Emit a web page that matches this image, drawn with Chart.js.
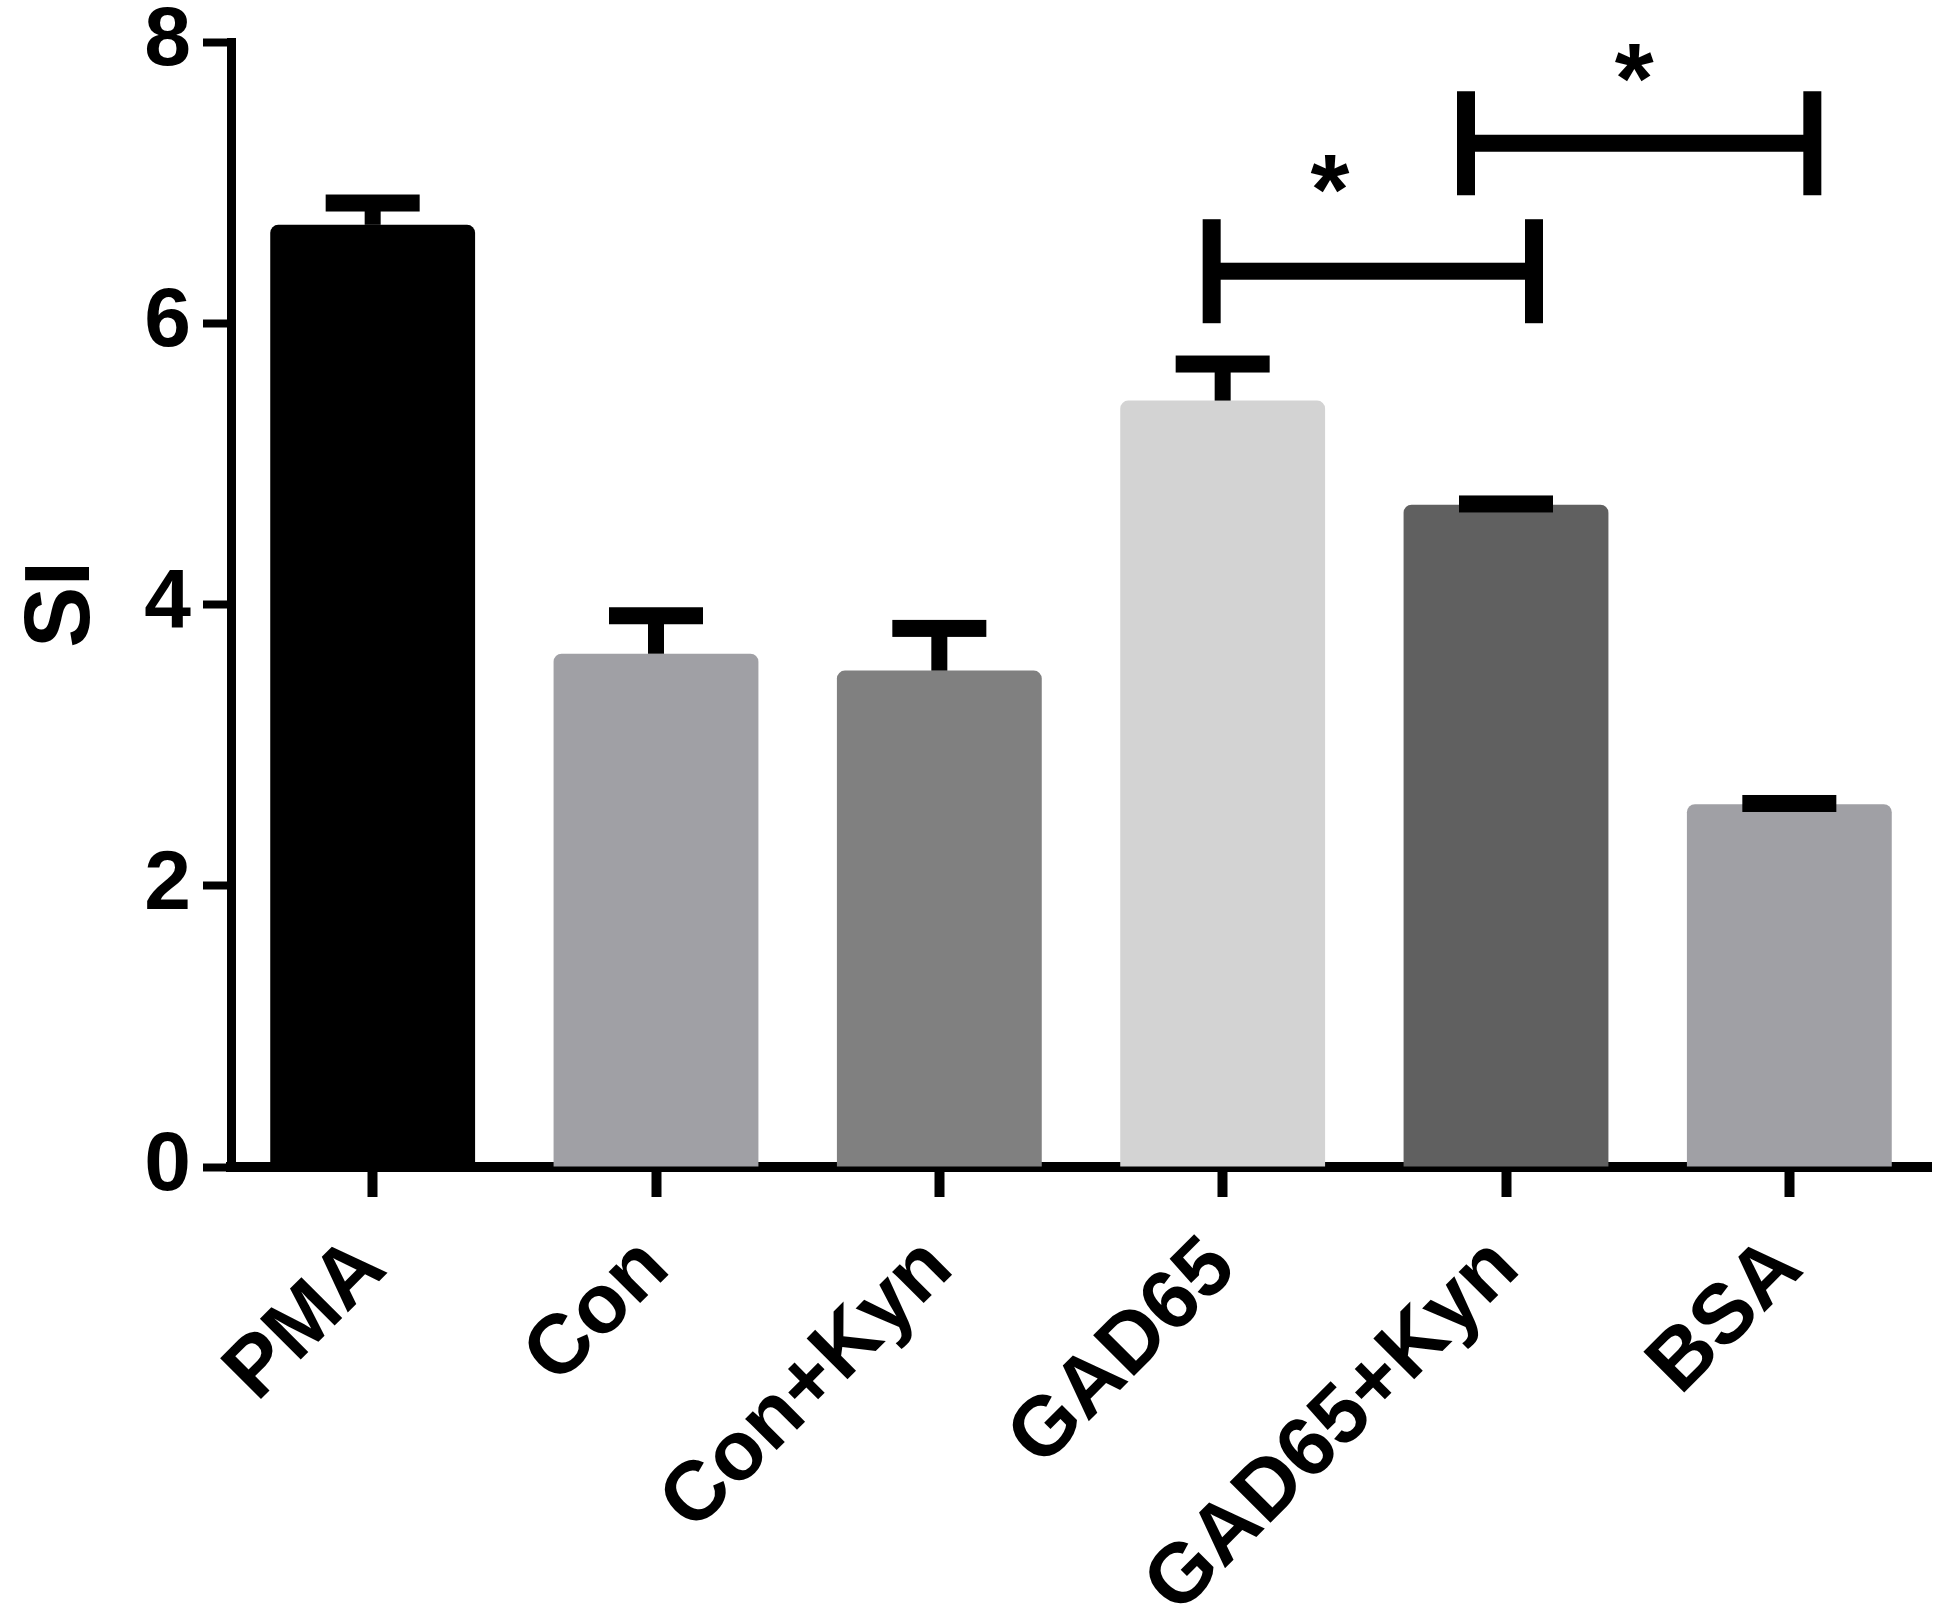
<!DOCTYPE html>
<html>
<head>
<meta charset="utf-8">
<script src="https://cdn.jsdelivr.net/npm/chart.js@4.4.1/dist/chart.umd.min.js"></script>
<style>
  html, body { margin: 0; padding: 0; background: #fff; }
  #wrap { width: 1949px; height: 1619px; }
</style>
</head>
<body>
<div id="wrap"><canvas id="chart" width="1949" height="1619"></canvas></div>
<script>
// data
const groups = ['PMA', 'Con', 'Con+Kyn', 'GAD65', 'GAD65+Kyn', 'BSA'];
const meanSI = [6.70, 3.65, 3.53, 5.45, 4.71, 2.58];
const semSI = [0.155, 0.27, 0.30, 0.26, 0.005, 0.005];
const yTicks = [0, 2, 4, 6, 8];

// significance brackets (category index from / to, height in SI units)
const sigFrom = [3, 4];
const sigTo = [4, 5];
const sigLevel = [6.37, 7.28];
const sigMark = ['*', '*'];

const barColors = ['#000000', '#a0a0a5', '#808080', '#d3d3d3', '#606060', '#a0a0a5'];
const FONT = "'Liberation Sans', Arial, sans-serif";

// pixel tweaks for the bracket ends and stars
const bracketStyle = [
    { left: -11, right: 28, starDx: -43, starDy: -99 },
    { left: -40, right: 23, starDx: -5, starDy: -82 }
];

// Error bars (mean + SEM, upper only)
const errorBars = {
    id: 'errorBars',
    afterDatasetsDraw(chart) {
        const ctx = chart.ctx;
        const y = chart.scales.y;
        const meta = chart.getDatasetMeta(0);
        ctx.save();
        ctx.fillStyle = '#000';
        meta.data.forEach(function (bar, i) {
            const top = y.getPixelForValue(meanSI[i] + semSI[i]);
            ctx.fillRect(bar.x - 8, top, 16, bar.y - top);
            ctx.fillRect(bar.x - 47, top - 8.5, 94, 17);
        });
        ctx.restore();
    }
};

// Significance brackets with stars
const brackets = {
    id: 'brackets',
    afterDraw(chart) {
        const ctx = chart.ctx;
        const x = chart.scales.x;
        const y = chart.scales.y;
        ctx.save();
        ctx.fillStyle = '#000';
        sigFrom.forEach(function (from, i) {
            const st = bracketStyle[i];
            const x1 = x.getPixelForValue(from) + st.left;
            const x2 = x.getPixelForValue(sigTo[i]) + st.right;
            const yy = y.getPixelForValue(sigLevel[i]);
            ctx.fillRect(x1, yy - 8.5, x2 - x1, 17);
            ctx.fillRect(x1 - 9, yy - 52, 18, 104);
            ctx.fillRect(x2 - 9, yy - 52, 18, 104);
            ctx.font = 'bold 100px ' + FONT;
            ctx.textAlign = 'center';
            ctx.textBaseline = 'alphabetic';
            ctx.fillText(sigMark[i], (x1 + x2) / 2 + st.starDx, yy + st.starDy + 52);
        });
        ctx.restore();
    }
};

const ctx = document.getElementById('chart').getContext('2d');
new Chart(ctx, {
    type: 'bar',
    data: {
        labels: groups,
        datasets: [{
            data: meanSI,
            backgroundColor: barColors,
            borderWidth: 0,
            borderRadius: 8,
            borderSkipped: 'start',
            categoryPercentage: 1,
            barPercentage: 0.723
        }]
    },
    options: {
        responsive: false,
        devicePixelRatio: 1,
        animation: false,
        layout: { padding: { top: 42, right: 18, bottom: 0, left: 0 } },
        plugins: {
            legend: { display: false },
            tooltip: { enabled: false }
        },
        scales: {
            x: {
                offset: true,
                grid: {
                    display: true, drawOnChartArea: false, offset: false,
                    tickLength: 30, tickWidth: 10, tickColor: '#000', color: '#000'
                },
                border: { display: true, color: '#000', width: 10 },
                ticks: {
                    color: '#000',
                    font: { family: FONT, size: 84, weight: 'bold' },
                    minRotation: 45, maxRotation: 45, autoSkip: false, padding: 22
                },
                afterFit(scale) {
                    scale.height = 452;
                    scale.paddingLeft = 0;
                    scale.paddingRight = 0;
                }
            },
            y: {
                min: 0, max: 8,
                afterBuildTicks(scale) {
                    scale.ticks = yTicks.map(v => ({ value: v }));
                },
                grid: {
                    drawOnChartArea: false, tickLength: 28, tickWidth: 8, tickColor: '#000'
                },
                border: { display: true, color: '#000', width: 9 },
                ticks: {
                    color: '#000',
                    font: { family: FONT, size: 84, weight: 'bold' },
                    padding: 12
                },
                title: {
                    display: true, text: 'SI', color: '#000',
                    font: { family: FONT, size: 92, weight: 'bold', lineHeight: 1 },
                    padding: { top: 18, bottom: 0 }
                },
                afterFit(scale) {
                    scale.width = 231;
                    scale.paddingTop = 0;
                    scale.paddingBottom = 0;
                }
            }
        }
    },
    plugins: [errorBars, brackets]
});
</script>
</body>
</html>
